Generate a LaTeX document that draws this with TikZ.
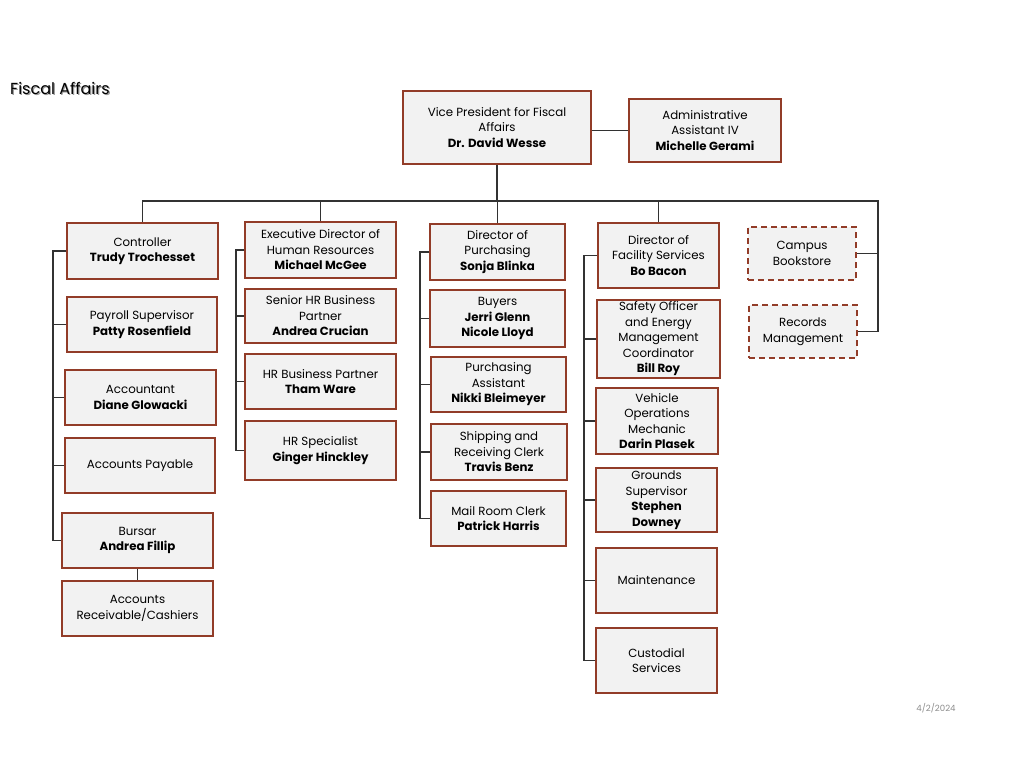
\documentclass[tikz,border=0pt]{standalone}
\usepackage{fontspec}
\setmainfont{Poppins}
\definecolor{boxedge}{RGB}{146,60,40}
\definecolor{boxfill}{RGB}{242,242,242}
\definecolor{wire}{RGB}{50,50,50}

\begin{document}
\begin{tikzpicture}[x=1pt, y=-1pt,
	unit/.style={shape=rectangle, draw=boxedge, fill=boxfill, line width=1.6pt, align=center, inner sep=0pt, font=\fontsize{11.8}{15.5}\selectfont},
	pending/.style={unit, dashed, dash pattern=on 6pt off 4pt},
	link/.style={draw=wire, line width=1.1pt}]
	\useasboundingbox (0,0) rectangle (1024,768);
	% Heading and date:
	\node[anchor=west, inner sep=0pt, text=black!40, font=\fontsize{16}{18}\selectfont] (headsh) at (11.2,89.2){Fiscal Affairs};
	\node[anchor=west, inner sep=0pt, font=\fontsize{16}{18}\selectfont] (head) at (10,88){Fiscal Affairs};
	\node[text=black!45, font=\fontsize{8.6}{10}\selectfont] (date) at (936,708){4/2/2024};
	% Top boxes:
	\node[unit, minimum width=188pt, minimum height=73pt] (vp) at (497,127.5){Vice President for Fiscal\\Affairs\\\textbf{Dr. David Wesse}};
	\node[unit, minimum width=152pt, minimum height=63pt] (admin) at (705,130.5){Administrative\\Assistant IV\\\textbf{Michelle Gerami}};
	% Controller column:
	\node[unit, minimum width=151pt, minimum height=56pt] (ctrl) at (142.5,251){Controller\\\textbf{Trudy Trochesset}};
	\node[unit, minimum width=150pt, minimum height=55pt] (pay) at (142,324.5){Payroll Supervisor\\\textbf{Patty Rosenfield}};
	\node[unit, minimum width=151pt, minimum height=55pt] (acct) at (140.5,397.5){Accountant\\\textbf{Diane Glowacki}};
	\node[unit, minimum width=150pt, minimum height=55pt] (ap) at (140,465.5){Accounts Payable};
	\node[unit, minimum width=151pt, minimum height=55pt] (bursar) at (137.5,540.5){Bursar\\\textbf{Andrea Fillip}};
	\node[unit, minimum width=151pt, minimum height=55pt] (arc) at (137.5,608.5){Accounts\\Receivable/Cashiers};
	% Human resources column:
	\node[unit, minimum width=151pt, minimum height=56pt] (hr) at (320.5,250){Executive Director of\\Human Resources\\\textbf{Michael McGee}};
	\node[unit, minimum width=151pt, minimum height=54pt] (srhr) at (320.5,316){Senior HR Business\\Partner\\\textbf{Andrea Crucian}};
	\node[unit, minimum width=151pt, minimum height=55pt] (hrbp) at (320.5,381.5){HR Business Partner\\\textbf{Tham Ware}};
	\node[unit, minimum width=151pt, minimum height=59pt] (hrsp) at (320.5,450.5){HR Specialist\\\textbf{Ginger Hinckley}};
	% Purchasing column:
	\node[unit, minimum width=135pt, minimum height=56pt] (pur) at (497.5,252){Director of\\Purchasing\\\textbf{Sonja Blinka}};
	\node[unit, minimum width=135pt, minimum height=57pt] (buy) at (497.5,318.5){Buyers\\\textbf{Jerri Glenn}\\\textbf{Nicole Lloyd}};
	\node[unit, minimum width=135pt, minimum height=55pt] (pass) at (498.5,384.5){Purchasing\\Assistant\\\textbf{Nikki Bleimeyer}};
	\node[unit, minimum width=136pt, minimum height=56pt] (ship) at (499,452){Shipping and\\Receiving Clerk\\\textbf{Travis Benz}};
	\node[unit, minimum width=135pt, minimum height=55pt] (mail) at (498.5,518.5){Mail Room Clerk\\\textbf{Patrick Harris}};
	% Facility column:
	\node[unit, minimum width=121pt, minimum height=65pt] (fac) at (658.5,255.5){Director of\\Facility Services\\\textbf{Bo Bacon}};
	\node[unit, minimum width=123pt, minimum height=78pt] (safe) at (658.5,339){Safety Officer\\and Energy\\Management\\Coordinator\\\textbf{Bill Roy}};
	\node[unit, minimum width=122pt, minimum height=66pt] (veh) at (657,421){Vehicle\\Operations\\Mechanic\\\textbf{Darin Plasek}};
	\node[unit, minimum width=121pt, minimum height=64pt] (grnd) at (656.5,500){Grounds\\Supervisor\\\textbf{Stephen}\\\textbf{Downey}};
	\node[unit, minimum width=121pt, minimum height=65pt] (maint) at (656.5,580.5){Maintenance};
	\node[unit, minimum width=121pt, minimum height=65pt] (cust) at (656.5,660.5){Custodial\\Services};
	% Planned units:
	\node[pending, minimum width=108pt, minimum height=53pt] (book) at (802,253.5){Campus\\Bookstore};
	\node[pending, minimum width=108pt, minimum height=53pt] (rec) at (803,331.5){Records\\Management};
	% Wires:
	\coordinate (bus) at (878,201);
	\coordinate (rail1) at (53,0);
	\coordinate (rail2) at (236,0);
	\coordinate (rail3) at (420,0);
	\coordinate (rail4) at (584,0);
	\draw[link] (vp.east |- admin.west) -- (admin.west);
	\draw[link] (vp.south) -- (vp.south |- bus);
	\draw[link] (ctrl.north) |- (bus) |- (rec.east);
	\draw[link] (bus |- book.east) -- (book.east);
	\foreach \head in {hr, pur, fac}
		\draw[link] (\head.north) -- (\head.north |- bus);
	\draw[link] (ctrl.west) -| (rail1 |- bursar.west) -- (bursar.west);
	\foreach \unit in {pay, acct, ap}
		\draw[link] (\unit.west) -- (\unit.west -| rail1);
	\draw[link] (bursar.south -| arc.north) -- (arc.north);
	\draw[link] (hr.west) -| (rail2 |- hrsp.west) -- (hrsp.west);
	\foreach \unit in {srhr, hrbp}
		\draw[link] (\unit.west) -- (\unit.west -| rail2);
	\draw[link] (pur.west) -| (rail3 |- mail.west) -- (mail.west);
	\foreach \unit in {buy, pass, ship}
		\draw[link] (\unit.west) -- (\unit.west -| rail3);
	\draw[link] (fac.west) -| (rail4 |- cust.west) -- (cust.west);
	\foreach \unit in {safe, veh, grnd, maint}
		\draw[link] (\unit.west) -- (\unit.west -| rail4);
\end{tikzpicture}
\end{document}
